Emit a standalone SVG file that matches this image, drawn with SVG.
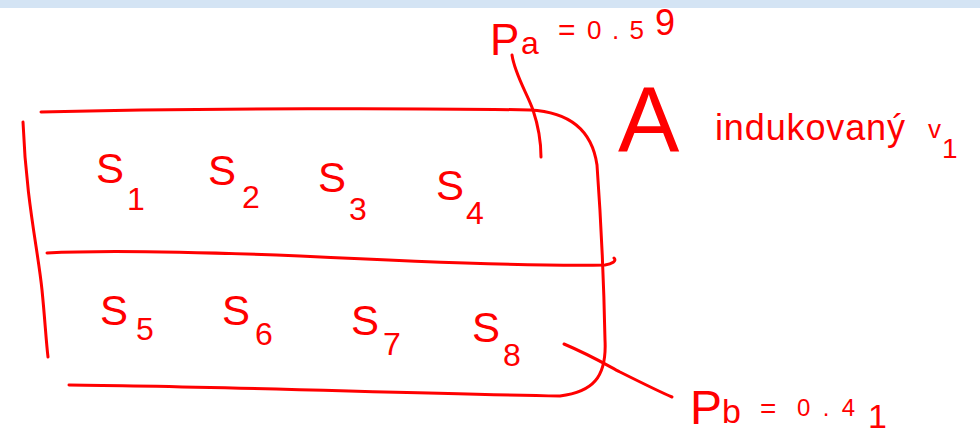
<svg xmlns="http://www.w3.org/2000/svg" width="980" height="438" viewBox="0 0 980 438">
<style>
.ink{fill:none;stroke:#ff0000;stroke-width:3;stroke-linecap:round;stroke-linejoin:round}
.t{fill:#ff0000;font-family:"Liberation Sans","DejaVu Sans",sans-serif}
.s{font-size:42px}
.sub{font-size:32px}
</style>
<rect x="0" y="0" width="980" height="8" fill="#d4e4f4"/>
<g id="box">
<path class="ink" d="M41,112 C200,108 430,108 530,110 C570,112 592,130 597,165 C601,220 604,290 605,340 C607,378 592,392 560,396 C400,393 200,386 69,385"/>
<path class="ink" d="M23,122 C26,200 38,250 42,290 C45,320 46,340 48,357"/>
<path class="ink" d="M47,253 C100,250 200,252 300,256 C420,262 540,266 605,265 C612,264 617,261 614,258"/>
</g>
<g id="row-a">
<text class="t s" x="96" y="183">S</text><text class="t sub" x="127" y="210">1</text>
<text class="t s" x="208" y="185">S</text><text class="t sub" x="242" y="208">2</text>
<text class="t s" x="318" y="192">S</text><text class="t sub" x="349" y="220">3</text>
<text class="t s" x="436" y="200">S</text><text class="t sub" x="466" y="224">4</text>
</g>
<g id="row-b">
<text class="t s" x="100" y="325">S</text><text class="t sub" x="136" y="340">5</text>
<text class="t s" x="222" y="325">S</text><text class="t sub" x="255" y="345">6</text>
<text class="t s" x="351" y="335">S</text><text class="t sub" x="383" y="355">7</text>
<text class="t s" x="472" y="342">S</text><text class="t sub" x="503" y="366">8</text>
</g>
<g id="label-pa">
<text class="t" x="490" y="55" font-size="44">P</text>
<text class="t" x="521" y="54" font-size="32">a</text>
<text class="t" x="558" y="40" font-size="30">=</text>
<text class="t" x="587" y="39" font-size="26" textLength="57">0.5</text>
<text class="t" x="655" y="35" font-size="36">9</text>
</g>
<g id="label-a">
<text class="t" x="618" y="152" font-size="92">A</text>
<text class="t" x="715" y="140" font-size="36" textLength="190">indukovaný</text>
<text class="t" x="928" y="138" font-size="26">v</text>
<text class="t" x="942" y="158" font-size="28">1</text>
</g>
<g id="label-pb">
<text class="t" x="690" y="424" font-size="48">P</text>
<text class="t" x="722" y="423" font-size="34">b</text>
<text class="t" x="760" y="418" font-size="28">=</text>
<text class="t" x="797" y="416" font-size="24" textLength="58">0.4</text>
<text class="t" x="868" y="428" font-size="34">1</text>
</g>
<g id="connectors">
<path class="ink" d="M512,55 C515,75 528,95 533,110 C538,125 541,140 541,157"/>
<path class="ink" d="M564,344 C590,355 605,364 620,372 C640,382 660,392 672,397"/>
</g>
</svg>
